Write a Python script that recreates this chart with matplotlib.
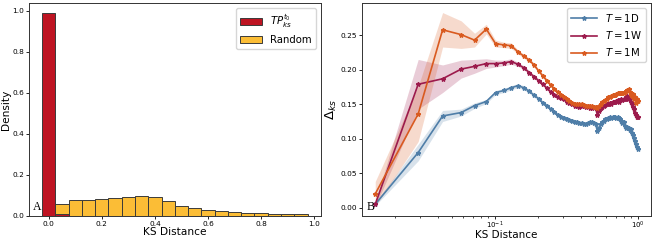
import numpy as np
import matplotlib
matplotlib.use("Agg")
import matplotlib.pyplot as plt

# Panel A: histogram of KS distances (fraction per bin)
bin_edges = np.linspace(-0.025, 0.975, 21)
tp_heights = [0.990, 0.008, 0, 0, 0, 0, 0, 0, 0, 0,
              0, 0, 0, 0, 0, 0, 0, 0, 0, 0]
rand_heights = [0.003, 0.057, 0.080, 0.078, 0.083, 0.089, 0.094, 0.099, 0.094, 0.075,
                0.049, 0.037, 0.029, 0.023, 0.018, 0.016, 0.015, 0.011, 0.010, 0.008]

# Panel B: Delta_ks vs KS distance for three horizons
ks_grid = [0.0145, 0.029, 0.043, 0.058, 0.072, 0.087, 0.101, 0.116, 0.130, 0.145,
           0.159, 0.174, 0.188, 0.203, 0.217, 0.232, 0.246, 0.261, 0.275, 0.290,
           0.304, 0.319, 0.333, 0.348, 0.362, 0.377, 0.391, 0.406, 0.420, 0.435,
           0.449, 0.464, 0.478, 0.493, 0.507, 0.522, 0.536, 0.551, 0.565, 0.580,
           0.594, 0.609, 0.623, 0.638, 0.652, 0.667, 0.681, 0.696, 0.710, 0.725,
           0.739, 0.754, 0.768, 0.783, 0.797, 0.812, 0.826, 0.841, 0.855, 0.870,
           0.884, 0.899, 0.913, 0.928, 0.942, 0.957, 0.971, 0.986, 1.000]

delta_1d = [0.005, 0.080, 0.133, 0.138, 0.148, 0.154, 0.167, 0.170, 0.174, 0.177,
            0.174, 0.169, 0.163, 0.158, 0.152, 0.148, 0.143, 0.139, 0.135, 0.132,
            0.130, 0.128, 0.127, 0.126, 0.125, 0.124, 0.123, 0.123, 0.122, 0.122,
            0.123, 0.124, 0.124, 0.123, 0.122, 0.111, 0.116, 0.121, 0.124, 0.126,
            0.128, 0.129, 0.130, 0.131, 0.130, 0.131, 0.132, 0.131, 0.130, 0.131,
            0.130, 0.128, 0.126, 0.123, 0.124, 0.119, 0.116, 0.117, 0.115, 0.116,
            0.113, 0.114, 0.109, 0.105, 0.101, 0.097, 0.092, 0.088, 0.085]
delta_1w = [0.005, 0.179, 0.187, 0.201, 0.205, 0.209, 0.209, 0.210, 0.212, 0.208,
            0.203, 0.196, 0.190, 0.184, 0.179, 0.173, 0.168, 0.164, 0.161, 0.159,
            0.157, 0.154, 0.152, 0.150, 0.148, 0.147, 0.146, 0.148, 0.147, 0.146,
            0.147, 0.145, 0.145, 0.146, 0.144, 0.135, 0.140, 0.145, 0.146, 0.148,
            0.149, 0.150, 0.151, 0.152, 0.151, 0.153, 0.154, 0.153, 0.155, 0.156,
            0.154, 0.156, 0.157, 0.156, 0.158, 0.157, 0.160, 0.162, 0.158, 0.160,
            0.157, 0.153, 0.150, 0.146, 0.143, 0.138, 0.134, 0.132, 0.131]
delta_1m = [0.020, 0.136, 0.258, 0.251, 0.243, 0.259, 0.238, 0.236, 0.235, 0.226,
            0.220, 0.214, 0.207, 0.198, 0.191, 0.184, 0.178, 0.172, 0.168, 0.164,
            0.161, 0.158, 0.155, 0.152, 0.151, 0.150, 0.150, 0.151, 0.149, 0.148,
            0.148, 0.147, 0.147, 0.146, 0.146, 0.144, 0.148, 0.151, 0.153, 0.155,
            0.156, 0.158, 0.160, 0.161, 0.162, 0.163, 0.163, 0.164, 0.165, 0.166,
            0.166, 0.167, 0.166, 0.167, 0.167, 0.168, 0.169, 0.170, 0.171, 0.172,
            0.168, 0.164, 0.162, 0.165, 0.158, 0.160, 0.152, 0.157, 0.155]

# half-width of the confidence bands
band_1d = [0.002, 0.012, 0.008, 0.005, 0.004, 0.003, 0.003, 0.003, 0.003, 0.003,
           0.003, 0.003, 0.003, 0.003, 0.003, 0.003, 0.003, 0.003, 0.003, 0.003,
           0.003, 0.003, 0.003, 0.003, 0.003, 0.003, 0.003, 0.003, 0.003, 0.003,
           0.003, 0.003, 0.003, 0.003, 0.003, 0.003, 0.003, 0.003, 0.003, 0.003,
           0.003, 0.003, 0.003, 0.003, 0.003, 0.003, 0.003, 0.003, 0.003, 0.003,
           0.003, 0.003, 0.003, 0.003, 0.003, 0.003, 0.003, 0.003, 0.003, 0.003,
           0.003, 0.003, 0.003, 0.003, 0.003, 0.003, 0.003, 0.003, 0.003]
band_1w = [0.003, 0.036, 0.020, 0.013, 0.010, 0.007, 0.005, 0.004, 0.004, 0.003,
           0.003, 0.003, 0.003, 0.003, 0.003, 0.003, 0.003, 0.003, 0.003, 0.003,
           0.003, 0.003, 0.003, 0.003, 0.003, 0.003, 0.003, 0.003, 0.003, 0.003,
           0.003, 0.003, 0.003, 0.003, 0.003, 0.003, 0.003, 0.003, 0.003, 0.003,
           0.003, 0.003, 0.003, 0.003, 0.003, 0.003, 0.003, 0.003, 0.003, 0.003,
           0.003, 0.003, 0.003, 0.003, 0.003, 0.003, 0.003, 0.003, 0.003, 0.003,
           0.003, 0.003, 0.003, 0.003, 0.003, 0.003, 0.003, 0.003, 0.003]
band_1m = [0.018, 0.040, 0.025, 0.020, 0.010, 0.007, 0.005, 0.004, 0.004, 0.003,
           0.003, 0.003, 0.003, 0.003, 0.003, 0.003, 0.003, 0.003, 0.003, 0.003,
           0.003, 0.003, 0.003, 0.003, 0.003, 0.003, 0.003, 0.003, 0.003, 0.003,
           0.003, 0.003, 0.003, 0.003, 0.003, 0.003, 0.003, 0.003, 0.003, 0.003,
           0.003, 0.003, 0.003, 0.003, 0.003, 0.003, 0.003, 0.003, 0.003, 0.003,
           0.003, 0.003, 0.003, 0.003, 0.003, 0.003, 0.003, 0.003, 0.003, 0.003,
           0.003, 0.003, 0.003, 0.003, 0.003, 0.003, 0.003, 0.003, 0.003]

series = [
    (r"$T=1$D", delta_1d, band_1d, "#4f7ea8"),
    (r"$T=1$W", delta_1w, band_1w, "#9c1a4c"),
    (r"$T=1$M", delta_1m, band_1m, "#d95a1f"),
]

fig = plt.figure(figsize=(6.56, 2.4), dpi=100)
ax1 = fig.add_axes([0.044, 0.10, 0.445, 0.888])
ax2 = fig.add_axes([0.552, 0.10, 0.440, 0.888])

# --- A ---
widths = np.diff(bin_edges)
ax1.bar(bin_edges[:-1], rand_heights, width=widths, align="edge",
        color="#fbbd36", edgecolor="#3a3a3a", linewidth=0.7, label="Random", zorder=2)
ax1.bar(bin_edges[:-1], tp_heights, width=widths, align="edge",
        color="#be1422", edgecolor="#3a3a3a", linewidth=0.7,
        label=r"$TP_{ks}^{t_0}$", zorder=3)
ax1.set_xlabel("KS Distance", fontsize=7.6)
ax1.set_ylabel("Density", fontsize=7.6, labelpad=1)
h, l = ax1.get_legend_handles_labels()
ax1.legend(h[::-1], l[::-1], loc="upper right", fontsize=7.3, handlelength=2.2)
ax1.text(0.015, 0.012, "A", transform=ax1.transAxes, family="Liberation Serif",
         fontsize=8.5, va="bottom", ha="left")

# --- B ---
x = np.array(ks_grid)
for label, y, band, col in series:
    y = np.array(y)
    band = np.array(band)
    ax2.fill_between(x, y - band, y + band, color=col, alpha=0.22, linewidth=0)
    ax2.plot(x, y, color=col, marker="*", markersize=3.2, linewidth=1.2, label=label)
ax2.set_xscale("log")
ax2.set_xlabel("KS Distance", fontsize=7.5)
ax2.set_ylabel(r"$\Delta_{ks}$", fontsize=9.5, labelpad=1.5)
ax2.legend(loc="upper right", fontsize=7.3, handlelength=2.5)
ax2.text(0.015, 0.012, "B", transform=ax2.transAxes, family="Liberation Serif",
         fontsize=8.5, va="bottom", ha="left")

for ax in (ax1, ax2):
    ax.tick_params(labelsize=5.3, length=2, width=0.6, pad=1.5)
    ax.tick_params(which="minor", length=1.2, width=0.5)
    for s in ax.spines.values():
        s.set_linewidth(0.7)
        s.set_color("#333333")
ax2.tick_params(axis="x", which="both", labelsize=5.0, pad=0.8)
ax1.xaxis.set_label_coords(0.5, -0.052)
ax2.xaxis.set_label_coords(0.5, -0.067)

fig.savefig("out.png", dpi=100)
